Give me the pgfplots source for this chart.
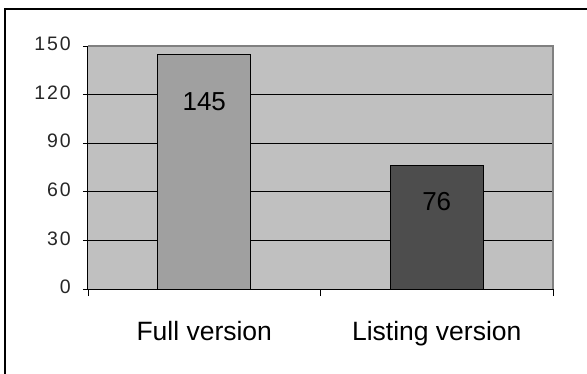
\documentclass[border=0pt]{standalone}
\usepackage{pgfplots}
\pgfplotsset{compat=1.18}
\usepackage{fontspec}
\setmainfont{Liberation Sans}
\newfontfamily\tickfont[LetterSpace=10]{Liberation Sans}
\definecolor{plotbg}{HTML}{C0C0C0}
\definecolor{barfull}{HTML}{A0A0A0}
\definecolor{barlist}{HTML}{4D4D4D}
\definecolor{rimgray}{HTML}{808080}

\begin{document}
\begin{tikzpicture}[x=1pt,y=1pt]
\useasboundingbox (0,0) rectangle (587,373);
% outer chart frame
\draw[line width=1.4pt] (5,-5) -- (5,364) -- (600,364);
\begin{axis}[
  at={(88pt,84pt)}, anchor=south west,
  scale only axis, width=465pt, height=243pt,
  xmin=0.5, xmax=2.5, ymin=0, ymax=150,
  axis background/.style={fill=plotbg},
  axis line style={draw=none},
  xtick pos=bottom, ytick pos=left,
  ytick={0,30,60,90,120,150},
  ymajorgrids, grid style={black, line width=0.9pt},
  xtick={1,2}, xticklabels={Full version, Listing version},
  minor xtick={0.5,1.5,2.5},
  tick align=outside,
  major tick length=5pt, minor tick length=7pt,
  x tick style={draw=none},
  minor x tick style={draw=black, line width=0.9pt},
  y tick style={black, line width=0.9pt},
  yticklabel style={font=\tickfont\fontsize{19.5}{22}\selectfont, inner sep=0pt, anchor=east, xshift=-12pt, yshift=2pt, text=black!85},
  xticklabel style={font=\fontsize{26.5}{30}\selectfont, inner sep=0pt, anchor=north, yshift=-27pt},
  /pgf/number format/assume math mode=true,
  clip=false,
]
\addplot[ybar, bar width=93pt, fill=barfull, draw=black, line width=1pt] coordinates {(1,145)};
\addplot[ybar, bar width=93pt, fill=barlist, draw=black, line width=1pt] coordinates {(2,76)};
\node[font=\fontsize{26}{30}\selectfont] at (axis cs:1,115.6) {145};
\node[font=\fontsize{26}{30}\selectfont] at (axis cs:2,53.9) {76};
% plot-area border: gray top and right, black left and bottom
\draw[rimgray, line width=1.5pt] (rel axis cs:0,1) -- (rel axis cs:1,1) -- (rel axis cs:1,0);
\draw[black, line width=1pt] (rel axis cs:0,1) -- (rel axis cs:0,0) -- (rel axis cs:1,0);
\end{axis}
\end{tikzpicture}
\end{document}
